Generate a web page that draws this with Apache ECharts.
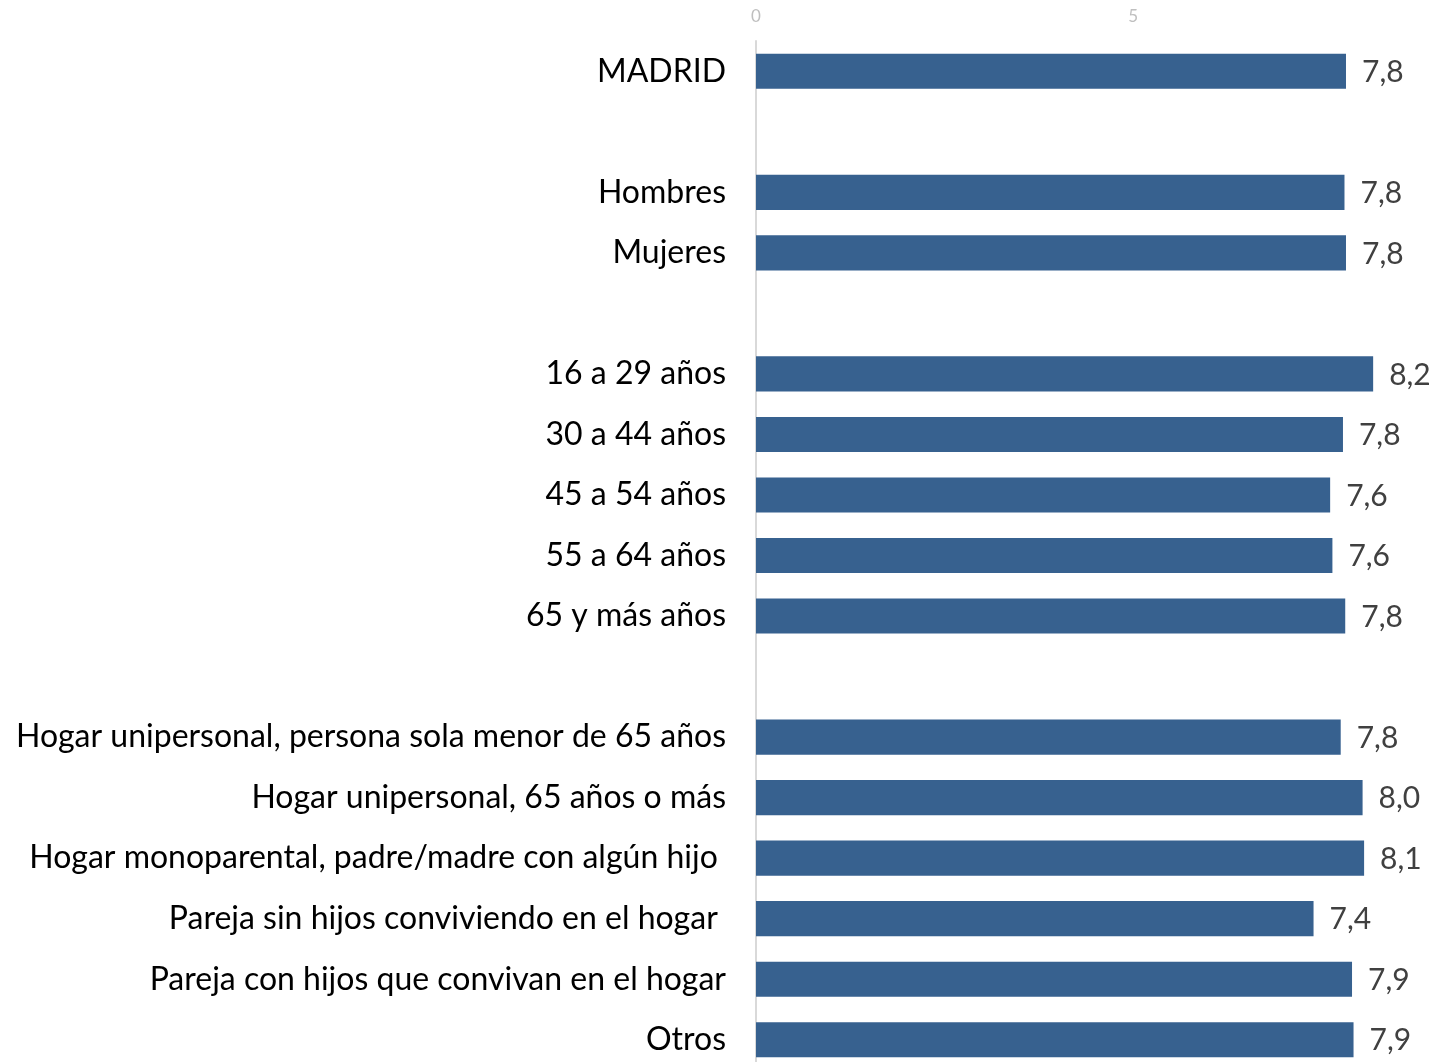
<!DOCTYPE html>
<html>
<head>
<meta charset="utf-8">
<script src="https://cdn.jsdelivr.net/npm/echarts@6/dist/echarts.min.js"></script>
<style>
  html, body { margin: 0; padding: 0; background: #fff; overflow: hidden; }
  #chart { width: 1435px; height: 1070px; }
</style>
</head>
<body>
<div id="chart"></div>
<script>
// categories top to bottom; blank rows are the gaps between groups
const categories = [
  'MADRID',
  '',
  'Hombres',
  'Mujeres',
  ' ',
  '16 a 29 años',
  '30 a 44 años',
  '45 a 54 años',
  '55 a 64 años',
  '65 y más años',
  '  ',
  'Hogar unipersonal, persona sola menor de 65 años',
  'Hogar unipersonal, 65 años o más',
  'Hogar monoparental, padre/madre con algún hijo ',
  'Pareja sin hijos conviviendo en el hogar ',
  'Pareja con hijos que convivan en el hogar',
  'Otros'
];
const values = [7.82, null, 7.80, 7.82, null, 8.18, 7.78, 7.61, 7.64, 7.81, null, 7.75, 8.04, 8.06, 7.39, 7.90, 7.92];
const axisTicks = [0, 5];

const chart = echarts.init(document.getElementById('chart'));

chart.setOption({
  animation: false,
  textStyle: { fontFamily: 'Lato, "Open Sans", sans-serif' },
  grid: { left: 756, right: 0, top: 41, bottom: 0 },
  xAxis: {
    type: 'value',
    position: 'top',
    min: 0,
    max: 8.96,
    interval: 5,
    axisLine: { show: false },
    axisTick: { show: false },
    splitLine: { show: false },
    axisLabel: {
      margin: 16,
      fontSize: 17,
      color: '#bfbfbf',
      formatter: (v) => axisTicks.includes(v) ? String(v) : ''
    }
  },
  yAxis: {
    type: 'category',
    inverse: true,
    data: categories,
    axisLine: { show: true, lineStyle: { color: '#d9d9d9', width: 2 } },
    axisTick: { show: false },
    axisLabel: { margin: 30, fontSize: 32, color: '#000' }
  },
  series: [{
    type: 'bar',
    data: values,
    barWidth: '58%',
    itemStyle: { color: '#37618f' },
    label: {
      show: true,
      position: 'right',
      distance: 16,
      offset: [0, 1],
      fontSize: 30,
      color: '#404040',
      formatter: (p) => p.value.toFixed(1).replace('.', ',')
    }
  }]
});
</script>
</body>
</html>
